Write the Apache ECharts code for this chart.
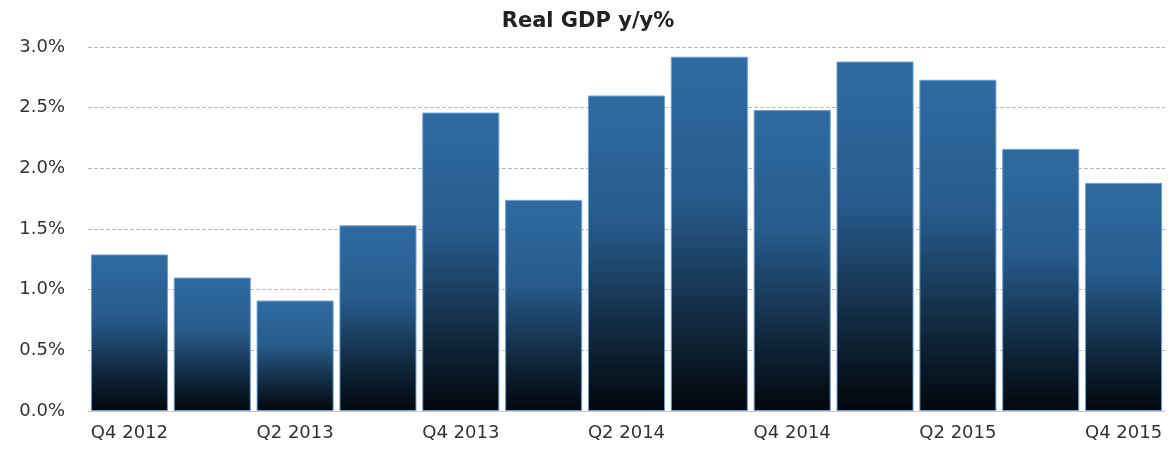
<!DOCTYPE html>
<html>
<head>
<meta charset="utf-8">
<script src="https://cdn.jsdelivr.net/npm/echarts@6/dist/echarts.min.js"></script>
<style>html,body{margin:0;padding:0;background:#fff}#c{width:1176px;height:451px}</style>
</head>
<body>
<div id="c"></div>
<script>
const categories = ['Q4 2012','Q1 2013','Q2 2013','Q3 2013','Q4 2013','Q1 2014','Q2 2014','Q3 2014','Q4 2014','Q1 2015','Q2 2015','Q3 2015','Q4 2015'];
const gdpValues = [1.29, 1.10, 0.91, 1.53, 2.46, 1.74, 2.60, 2.92, 2.48, 2.88, 2.73, 2.16, 1.88];
const titleText = 'Real GDP y/y%';

const chart = echarts.init(document.getElementById('c'));
chart.setOption({
  animation: false,
  title: {
    text: titleText, left: 'center', top: 6,
    textStyle: { fontFamily: 'DejaVu Sans', fontWeight: 'bold', fontSize: 21, color: '#222' }
  },
  grid: { left: 88, right: 11, top: 47, bottom: 40 },
  xAxis: {
    type: 'category', data: categories,
    axisTick: { show: false },
    axisLine: { lineStyle: { color: '#ccc' } },
    axisLabel: { interval: 1, margin: 13, fontFamily: 'DejaVu Sans', fontSize: 18, color: '#333' }
  },
  yAxis: {
    type: 'value', min: 0, max: 3, interval: 0.5,
    axisLine: { show: false }, axisTick: { show: false },
    axisLabel: { margin: 23, fontFamily: 'DejaVu Sans', fontSize: 18, color: '#333',
      formatter: v => v.toFixed(1) + '%' },
    splitLine: { lineStyle: { color: '#bbb', type: [4, 2] } }
  },
  series: [{
    type: 'bar', data: gdpValues, barCategoryGap: '7%',
    itemStyle: {
      borderColor: '#6e9fd2', borderWidth: 1,
      color: new echarts.graphic.LinearGradient(0, 0, 0, 1, [
        { offset: 0, color: '#2e6ba2' },
        { offset: 0.4, color: '#275b8c' },
        { offset: 0.78, color: '#0f2438' },
        { offset: 1, color: '#02070c' }
      ])
    }
  }]
});
</script>
</body>
</html>
